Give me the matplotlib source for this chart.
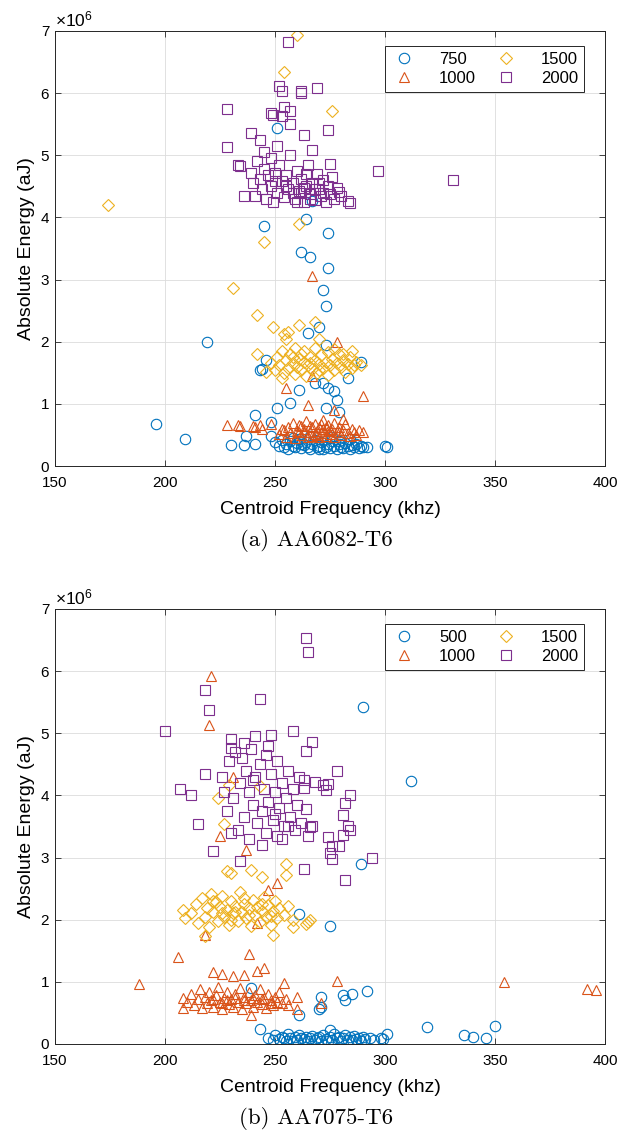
import numpy as np
import matplotlib.pyplot as plt
from matplotlib.ticker import ScalarFormatter

plt.rcParams['font.family'] = ['Liberation Sans', 'DejaVu Sans']
plt.rcParams['mathtext.fontset'] = 'custom'
plt.rcParams['mathtext.rm'] = 'Liberation Sans'
plt.rcParams['mathtext.it'] = 'Liberation Sans'

# (frequency kHz, energy x1e6 aJ)
# --- (a) AA6082-T6 ---
a_750 = [(196, 0.68), (209, 0.43), (219, 2.0), (230, 0.34), (236, 0.34), (237, 0.48),
         (241, 0.35), (241, 0.82), (243, 1.55), (245, 3.87), (246, 1.71), (244, 1.56),
         (248, 0.71), (248, 0.48), (251, 0.94), (251, 5.44), (257, 1.01), (261, 1.23),
         (262, 3.45), (264, 3.97), (266, 3.37), (267, 4.26), (268, 1.34), (270, 2.24),
         (272, 1.34), (272, 2.83), (273, 2.57), (274, 3.75), (274, 3.19), (273, 1.94),
         (265, 2.14), (274, 1.26), (277, 1.21), (278, 1.06), (279, 0.87), (283, 1.41),
         (289, 1.67), (273, 0.94), (300, 0.32), (301, 0.30),
         (250, 0.38), (252, 0.32), (253, 0.42), (254, 0.30), (255, 0.36), (256, 0.28),
         (257, 0.40), (258, 0.33), (259, 0.30), (260, 0.37), (261, 0.44), (262, 0.29),
         (263, 0.34), (264, 0.39), (265, 0.31), (266, 0.27), (267, 0.35), (268, 0.42),
         (269, 0.30), (270, 0.33), (271, 0.38), (272, 0.28), (273, 0.31), (274, 0.36),
         (275, 0.29), (276, 0.40), (277, 0.33), (278, 0.27), (279, 0.35), (280, 0.31),
         (281, 0.29), (282, 0.37), (283, 0.32), (284, 0.28), (285, 0.34), (286, 0.30),
         (287, 0.36), (288, 0.29), (289, 0.33), (290, 0.31), (292, 0.30), (258, 0.45),
         (266, 0.48), (276, 0.46), (284, 0.44), (270, 0.27), (262, 0.35), (279, 0.41)]
a_1000 = [(267, 3.06), (278, 1.99), (290, 1.12), (255, 1.25), (265, 0.98), (277, 0.90),
          (281, 0.76), (267, 1.45), (228, 0.66), (233, 0.66), (234, 0.64), (240, 0.64),
          (243, 0.66), (248, 0.68), (244, 0.60), (253, 0.60), (288, 0.58), (290, 0.55),
          (241, 0.62),
          (252, 0.52), (254, 0.58), (255, 0.47), (256, 0.63), (257, 0.53), (258, 0.70),
          (259, 0.45), (260, 0.57), (261, 0.66), (262, 0.50), (263, 0.60), (264, 0.72),
          (265, 0.47), (266, 0.55), (267, 0.62), (268, 0.51), (268, 0.68), (269, 0.57),
          (270, 0.46), (270, 0.63), (271, 0.53), (272, 0.59), (272, 0.74), (273, 0.49),
          (274, 0.56), (274, 0.66), (275, 0.52), (276, 0.60), (277, 0.46), (277, 0.70),
          (278, 0.55), (279, 0.62), (280, 0.50), (281, 0.58), (282, 0.67), (283, 0.53),
          (284, 0.48), (285, 0.60), (286, 0.55), (287, 0.50), (263, 0.54), (266, 0.64),
          (269, 0.50), (271, 0.67), (275, 0.58), (279, 0.54), (262, 0.65), (267, 0.48),
          (273, 0.62), (261, 0.55)]
a_1500 = [(174, 4.2), (260, 6.94), (254, 6.34), (276, 5.72), (261, 3.89), (245, 3.61),
          (231, 2.86), (242, 2.43), (249, 2.23), (254, 2.12), (261, 2.27), (268, 2.32),
          (256, 2.15), (242, 1.80), (281, 1.81), (286, 1.62), (246, 1.52), (270, 2.05),
          (255, 2.05),
          (248, 1.65), (250, 1.55), (251, 1.75), (252, 1.62), (253, 1.85), (254, 1.50),
          (255, 1.70), (256, 1.58), (257, 1.80), (258, 1.66), (259, 1.48), (259, 1.90),
          (260, 1.60), (261, 1.73), (262, 1.55), (263, 1.68), (263, 1.85), (264, 1.45),
          (265, 1.62), (266, 1.76), (267, 1.56), (268, 1.70), (268, 1.90), (269, 1.50),
          (270, 1.64), (271, 1.78), (272, 1.58), (273, 1.68), (274, 1.46), (274, 1.84),
          (275, 1.62), (276, 1.72), (277, 1.55), (278, 1.66), (279, 1.80), (280, 1.60),
          (281, 1.70), (282, 1.52), (283, 1.64), (284, 1.75), (285, 1.58), (287, 1.68),
          (289, 1.62), (258, 1.75), (266, 1.65), (270, 1.55), (262, 1.80), (277, 1.88),
          (253, 1.42), (285, 1.85)]
a_2000 = [(256, 6.82), (252, 6.11), (253, 6.03), (262, 6.04), (262, 6.00), (269, 6.08),
          (228, 5.74), (248, 5.68), (254, 5.78), (257, 5.72), (249, 5.65), (253, 5.64),
          (257, 5.50), (274, 5.40), (239, 5.36), (263, 5.32), (228, 5.14), (297, 4.75),
          (331, 4.60), (283, 4.26), (284, 4.23), (279, 4.41), (236, 4.35), (275, 4.86),
          (233, 4.85), (234, 4.83), (239, 4.71), (243, 5.25), (245, 5.05), (251, 5.15),
          (267, 5.08),
          (240, 4.55), (241, 4.35), (242, 4.90), (243, 4.62), (244, 4.45), (245, 4.78),
          (246, 4.30), (247, 4.68), (248, 4.95), (248, 4.50), (249, 4.25), (250, 4.72),
          (251, 4.40), (252, 4.85), (253, 4.58), (254, 4.33), (255, 4.68), (256, 4.45),
          (257, 5.00), (258, 4.55), (259, 4.30), (260, 4.75), (261, 4.42), (262, 4.62),
          (263, 4.25), (264, 4.50), (265, 4.85), (266, 4.38), (267, 4.55), (268, 4.28),
          (269, 4.70), (270, 4.45), (271, 4.35), (272, 4.60), (273, 4.25), (274, 4.50),
          (275, 4.38), (276, 4.65), (277, 4.30), (278, 4.48), (280, 4.35), (262, 4.40),
          (266, 4.30), (270, 4.55), (258, 4.40), (264, 4.70), (268, 4.45), (255, 4.50),
          (250, 4.58), (260, 4.25), (272, 4.40), (263, 4.48)]

# --- (b) AA7075-T6 ---
b_500 = [(290, 5.43), (312, 4.23), (289, 2.90), (275, 1.90), (261, 2.09), (292, 0.86),
         (285, 0.81), (281, 0.78), (282, 0.71), (271, 0.76), (270, 0.56), (271, 0.59),
         (261, 0.47), (239, 0.90), (243, 0.24), (275, 0.23), (319, 0.28), (350, 0.29),
         (336, 0.14), (340, 0.12), (346, 0.09), (301, 0.16), (298, 0.10), (299, 0.08),
         (247, 0.10), (249, 0.06), (250, 0.14), (252, 0.08), (253, 0.12), (255, 0.05),
         (256, 0.16), (257, 0.09), (259, 0.12), (260, 0.06), (261, 0.15), (263, 0.08),
         (264, 0.11), (265, 0.04), (267, 0.13), (268, 0.07), (269, 0.10), (271, 0.05),
         (272, 0.14), (273, 0.08), (275, 0.11), (276, 0.06), (277, 0.16), (278, 0.09),
         (279, 0.12), (280, 0.05), (281, 0.10), (282, 0.14), (283, 0.07), (284, 0.11),
         (285, 0.06), (286, 0.13), (287, 0.08), (288, 0.10), (289, 0.05), (290, 0.12),
         (291, 0.08), (293, 0.10), (295, 0.06), (254, 0.10), (262, 0.10), (270, 0.12),
         (274, 0.04), (266, 0.09), (258, 0.04)]
b_1000 = [(221, 5.92), (220, 5.14), (231, 4.30), (225, 3.35), (237, 3.12), (247, 2.48),
          (251, 2.59), (242, 1.94), (218, 1.75), (206, 1.40), (238, 1.45), (245, 1.23),
          (242, 1.18), (278, 1.02), (222, 1.16), (226, 1.13), (231, 1.10), (236, 1.11),
          (208, 0.74), (208, 0.58), (260, 0.75), (260, 0.57), (271, 0.66), (239, 0.47),
          (254, 0.98), (188, 0.97), (354, 1.00), (392, 0.88), (396, 0.87),
          (210, 0.68), (212, 0.80), (213, 0.62), (215, 0.72), (216, 0.88), (217, 0.58),
          (218, 0.76), (219, 0.66), (220, 0.84), (221, 0.70), (222, 0.60), (223, 0.78),
          (224, 0.92), (225, 0.68), (226, 0.56), (227, 0.74), (228, 0.84), (229, 0.64),
          (230, 0.72), (231, 0.60), (232, 0.80), (233, 0.68), (234, 0.90), (235, 0.56),
          (236, 0.76), (237, 0.66), (238, 0.84), (239, 0.70), (240, 0.60), (241, 0.78),
          (242, 0.68), (243, 0.88), (244, 0.64), (245, 0.74), (246, 0.58), (247, 0.80),
          (248, 0.70), (249, 0.62), (250, 0.76), (251, 0.68), (252, 0.84), (253, 0.66),
          (255, 0.72), (256, 0.62), (228, 0.70), (232, 0.74), (236, 0.70), (222, 0.72),
          (240, 0.74), (244, 0.72), (226, 0.66), (248, 0.66)]
b_1500 = [(229, 4.17), (224, 3.95), (243, 4.15), (227, 3.54), (255, 2.90), (255, 2.72),
          (239, 2.80), (228, 2.79), (230, 2.75), (244, 2.68), (266, 2.00), (264, 1.93),
          (258, 1.89), (249, 1.75), (218, 1.74), (208, 2.16), (209, 2.02), (265, 1.97),
          (212, 2.10), (214, 2.25), (215, 1.95), (217, 2.35), (218, 2.05), (219, 2.18),
          (220, 1.88), (221, 2.42), (222, 2.12), (223, 2.28), (224, 1.98), (225, 2.20),
          (226, 2.38), (227, 2.05), (228, 2.15), (229, 1.92), (230, 2.30), (231, 2.10),
          (232, 2.22), (233, 1.98), (234, 2.45), (235, 2.12), (236, 2.26), (237, 2.02),
          (238, 2.18), (239, 1.90), (240, 2.32), (241, 2.08), (242, 2.20), (243, 1.96),
          (244, 2.14), (245, 2.36), (246, 2.04), (247, 2.24), (248, 1.92), (249, 2.14),
          (250, 2.30), (251, 2.02), (252, 2.18), (254, 2.08), (256, 2.22), (258, 2.00),
          (226, 2.10), (232, 2.12), (238, 2.08), (244, 2.26), (222, 2.30), (236, 2.35),
          (248, 2.06), (230, 2.00)]
b_2000 = [(264, 6.54), (265, 6.30), (218, 5.69), (220, 5.37), (243, 5.55), (200, 5.04),
          (248, 4.97), (258, 5.03), (267, 4.86), (264, 4.71), (278, 4.39), (207, 4.10),
          (212, 4.00), (218, 4.35), (284, 4.00), (215, 3.54), (230, 4.90), (230, 4.76),
          (282, 3.88), (281, 3.69), (283, 3.51), (284, 3.44), (281, 3.36), (274, 3.33),
          (279, 3.19), (276, 3.18), (275, 3.07), (276, 2.97), (294, 2.99), (282, 2.64),
          (263, 2.81), (264, 3.78), (266, 3.49), (267, 3.50), (265, 3.34), (268, 4.22),
          (272, 4.17), (274, 4.18), (273, 4.08), (263, 4.25), (263, 4.12), (222, 3.10),
          (234, 2.95),
          (226, 4.30), (228, 3.75), (229, 4.55), (231, 3.95), (232, 4.70), (233, 3.45),
          (234, 4.20), (235, 4.60), (236, 3.65), (237, 4.40), (238, 3.30), (238, 4.05),
          (239, 4.75), (240, 3.85), (241, 4.30), (242, 3.55), (243, 4.50), (244, 3.75),
          (245, 4.10), (246, 3.40), (246, 4.65), (247, 3.90), (248, 4.35), (249, 3.60),
          (250, 4.05), (251, 3.35), (251, 4.55), (252, 3.80), (253, 4.20), (254, 3.50),
          (255, 3.95), (256, 4.40), (257, 3.65), (258, 4.10), (259, 3.45), (260, 3.85),
          (261, 4.30), (262, 3.55), (236, 4.85), (241, 4.95), (230, 3.40), (244, 3.20),
          (250, 3.70), (256, 3.50), (227, 4.05), (240, 4.25), (253, 3.30), (247, 4.80)]

labels_a = ['750', '1000', '1500', '2000']
labels_b = ['500', '1000', '1500', '2000']
captions = ['(a) AA6082-T6', '(b) AA7075-T6']

colors = ['#0072BD', '#D95319', '#EDB120', '#7E2F8E']
markers = ['o', '^', 'D', 's']
msizes = [7.5, 7.5, 6.0, 6.5]

fig = plt.figure(figsize=(6.21, 11.35), dpi=100)
ax_a = fig.add_axes([0.0886, 0.5894, 0.8857, 0.3833])
ax_b = fig.add_axes([0.0886, 0.0802, 0.8857, 0.3833])


def draw(ax, series, labels, caption, cap_y):
    for pts, lab, c, m, ms in zip(series, labels, colors, markers, msizes):
        arr = np.array(pts)
        ax.plot(arr[:, 0], arr[:, 1] * 1e6, linestyle='none', marker=m,
                markersize=ms, markerfacecolor='none', markeredgecolor=c,
                markeredgewidth=0.8, label=lab)
    ax.set_xlim(150, 400)
    ax.set_ylim(0, 7e6)
    ax.set_xticks(np.arange(150, 401, 50))
    ax.set_yticks(np.arange(0, 7.1e6, 1e6))
    fmt = ScalarFormatter(useMathText=True)
    fmt.set_powerlimits((0, 0))
    ax.yaxis.set_major_formatter(fmt)
    ax.yaxis.get_offset_text().set_fontsize(12.5)
    ax.grid(True, color='#dcdcdc', linewidth=0.6)
    ax.set_axisbelow(True)
    ax.tick_params(direction='in', top=True, right=True, labelsize=11,
                   length=4, width=0.6, color='#262626')
    ax.tick_params(axis='x', pad=7)
    for s in ax.spines.values():
        s.set_linewidth(0.7)
        s.set_color('#262626')
    ax.set_xlabel('Centroid Frequency (khz)', fontsize=14, labelpad=8)
    ax.set_ylabel('Absolute Energy (aJ)', fontsize=14, labelpad=4)
    leg = ax.legend(ncol=2, loc='upper right', bbox_to_anchor=(0.977, 0.985),
                    fontsize=12, fancybox=False, edgecolor='#262626',
                    framealpha=1, borderpad=0.35, handletextpad=1.3,
                    columnspacing=1.0, labelspacing=0.25, handlelength=1.6,
                    markerscale=1.0)
    leg.get_frame().set_linewidth(0.7)
    fig.text(0.509, cap_y, caption, ha='center', va='center',
             fontsize=16.5, family=['cmr10', 'DejaVu Serif'])


draw(ax_a, [a_750, a_1000, a_1500, a_2000], labels_a, captions[0], 1 - 541 / 1135)
draw(ax_b, [b_500, b_1000, b_1500, b_2000], labels_b, captions[1], 1 - 1119 / 1135)

fig.savefig('out.png', dpi=100)
